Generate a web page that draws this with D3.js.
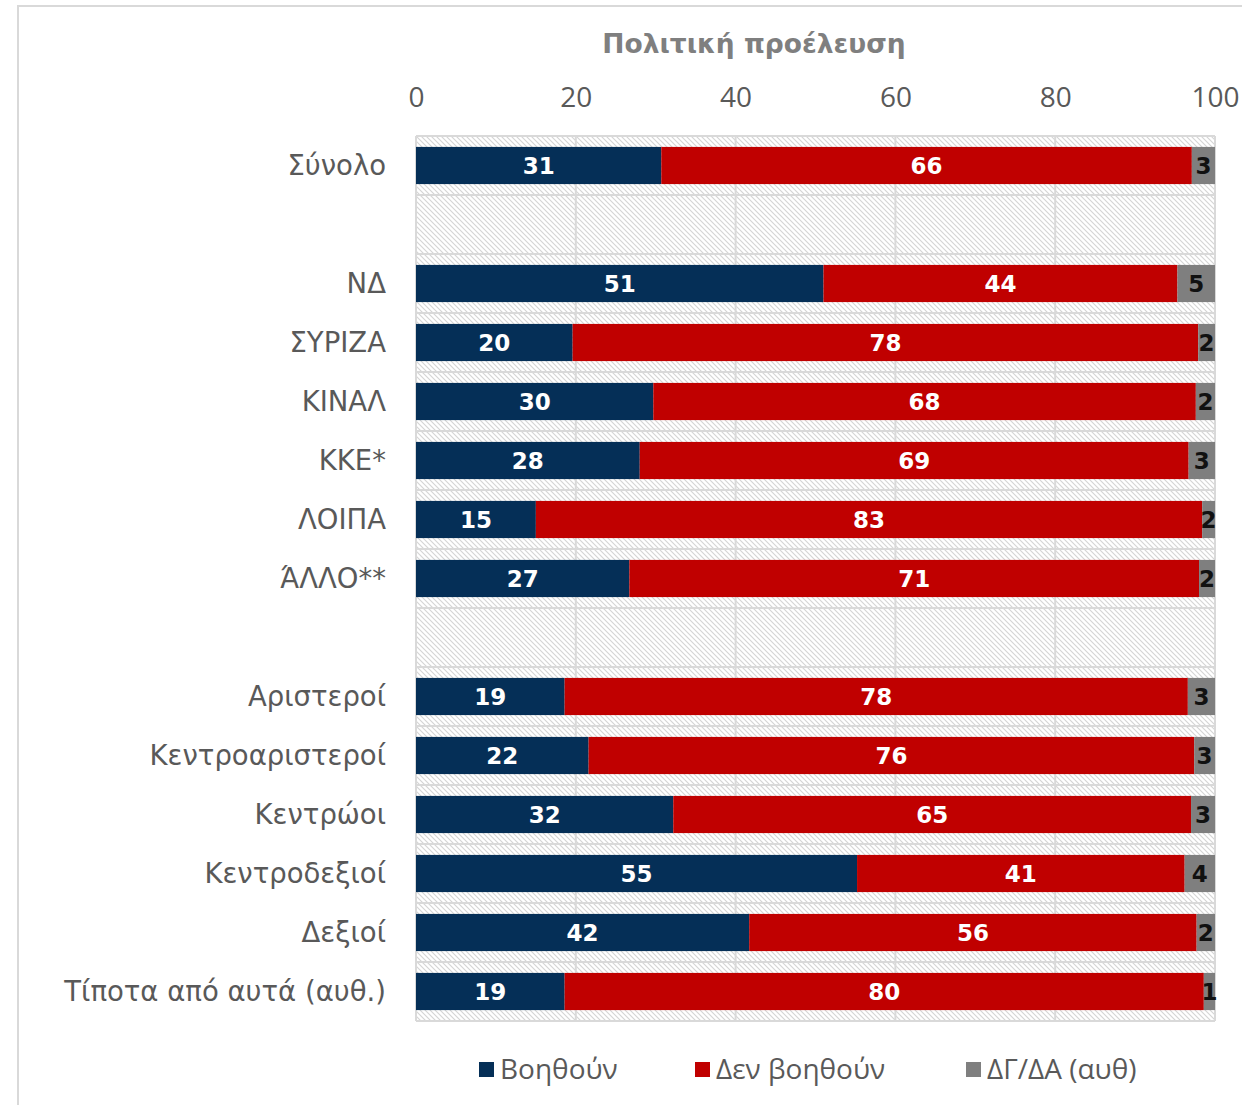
<!DOCTYPE html>
<html><head><meta charset="utf-8">
<script src="https://cdn.jsdelivr.net/npm/d3@7"></script>
<style>body{margin:0;background:#fff}svg{display:block}</style>
</head><body>
<svg id="chart" width="1242" height="1105"></svg>
<script>
const categories = ["Σύνολο","","ΝΔ","ΣΥΡΙΖΑ","ΚΙΝΑΛ","ΚΚΕ*","ΛΟΙΠΑ","ΆΛΛΟ**","","Αριστεροί","Κεντροαριστεροί","Κεντρώοι","Κεντροδεξιοί","Δεξιοί","Τίποτα από αυτά (αυθ.)"];
// values; labels shown rounded
const helps    = [30.7,null,51.0,19.6,29.7,28.0,15.0,26.7,null,18.6,21.6,32.2,55.2,41.7,18.6];
const noHelp   = [66.4,null,44.3,78.3,67.9,68.7,83.4,71.3,null,78.0,75.8,64.8,41.0,56.0,80.0];
const dkna     = [2.9,null,4.7,2.1,2.4,3.3,1.6,2.0,null,3.4,2.6,3.0,3.8,2.3,1.4];
const seriesNames = ["Βοηθούν","Δεν βοηθούν","ΔΓ/ΔΑ (αυθ)"];
const seriesColors = ["#052f57","#c00000","#7f7f7f"];
const labelColors = ["#ffffff","#ffffff","#111111"];
const xTicks = [0,20,40,60,80,100];
const title = "Πολιτική προέλευση";

const svg = d3.select("#chart");
const m = {left:416, right:1215, top:136, bottom:1021};

svg.append("rect").attr("x",18).attr("y",6).attr("width",1300).attr("height",1200)
  .attr("fill","#fff").attr("stroke","#d9d9d9").attr("stroke-width",2);

const defs = svg.append("defs");
const pat = defs.append("pattern").attr("id","hatch").attr("patternUnits","userSpaceOnUse")
  .attr("width",5).attr("height",5);
pat.append("rect").attr("width",5).attr("height",5).attr("fill","#fff");
pat.append("path").attr("d","M-1,-1 L6,6 M-1,4 L1,6 M4,-1 L6,1").attr("stroke","#d4d4d4").attr("stroke-width",1.1);

const keys = categories.map((c,i)=>i);
const x = d3.scaleLinear().domain([0,100]).range([m.left,m.right]);
const y = d3.scaleBand().domain(keys).range([m.top,m.bottom]).paddingInner(0.37).paddingOuter(0.185);
const step = y.step();

svg.append("rect").attr("x",m.left).attr("y",m.top).attr("width",m.right-m.left).attr("height",m.bottom-m.top)
  .attr("fill","url(#hatch)");

svg.append("g").selectAll("line").data(xTicks).join("line")
  .attr("x1",d=>x(d)).attr("x2",d=>x(d)).attr("y1",m.top).attr("y2",m.bottom)
  .attr("stroke","#d9d9d9").attr("stroke-width",2);
const bounds = d3.range(categories.length+1).map(i=>m.top+i*step);
svg.append("g").selectAll("line").data(bounds).join("line")
  .attr("x1",m.left).attr("x2",m.right).attr("y1",d=>d).attr("y2",d=>d)
  .attr("stroke","#d9d9d9").attr("stroke-width",2);

const xAxis = d3.axisTop(x).tickValues(xTicks).tickSize(0).tickPadding(0);
const gx = svg.append("g").attr("transform","translate(0,107)").call(xAxis);
gx.select(".domain").remove();
gx.selectAll("text").attr("font-family","'Open Sans', sans-serif").attr("font-size",28)
  .attr("fill","#595959").attr("dy",0);

svg.append("text").attr("x",754).attr("y",53).attr("text-anchor","middle")
  .attr("font-family","'DejaVu Sans', sans-serif").attr("font-weight","bold").attr("font-size",26.5)
  .attr("fill","#7f7f7f").text(title);

const yAxis = d3.axisLeft(y).tickFormat(i=>categories[i]).tickSize(0).tickPadding(30);
const gy = svg.append("g").attr("transform",`translate(${m.left},0)`).call(yAxis);
gy.select(".domain").remove();
gy.selectAll("text").attr("font-family","'DejaVu Sans', sans-serif").attr("font-size",27.5)
  .attr("fill","#595959").attr("dy","0.36em");

const fmt = d3.format(".0f");
const rows = keys.filter(i=>helps[i]!==null).map(i=>({i, v:[helps[i],noHelp[i],dkna[i]]}));
const segs = [];
rows.forEach(r=>{
  let acc=0;
  r.v.forEach((v,s)=>{segs.push({i:r.i,s,v,x0:acc,x1:acc+v}); acc+=v;});
});
const gb = svg.append("g");
gb.selectAll("rect").data(segs).join("rect")
  .attr("x",d=>x(d.x0)).attr("width",d=>x(d.x1)-x(d.x0))
  .attr("y",d=>y(d.i)).attr("height",y.bandwidth())
  .attr("fill",d=>seriesColors[d.s]);
gb.selectAll("text").data(segs).join("text")
  .attr("x",d=>(x(d.x0)+x(d.x1))/2).attr("y",d=>y(d.i)+y.bandwidth()/2).attr("dy","0.36em")
  .attr("text-anchor","middle").attr("font-family","'DejaVu Sans', sans-serif").attr("font-weight","bold")
  .attr("font-size",23).attr("fill",d=>labelColors[d.s]).text(d=>fmt(d.v));

const legX = [479,695,966];
const lg = svg.append("g");
seriesNames.forEach((n,k)=>{
  lg.append("rect").attr("x",legX[k]).attr("y",1062).attr("width",15).attr("height",15).attr("fill",seriesColors[k]);
  lg.append("text").attr("x",legX[k]+21).attr("y",1069).attr("dy","0.36em")
    .attr("font-family","'Open Sans',sans-serif").attr("font-size",28)
    .attr("fill","#595959").text(n);
});
</script>
</body></html>
